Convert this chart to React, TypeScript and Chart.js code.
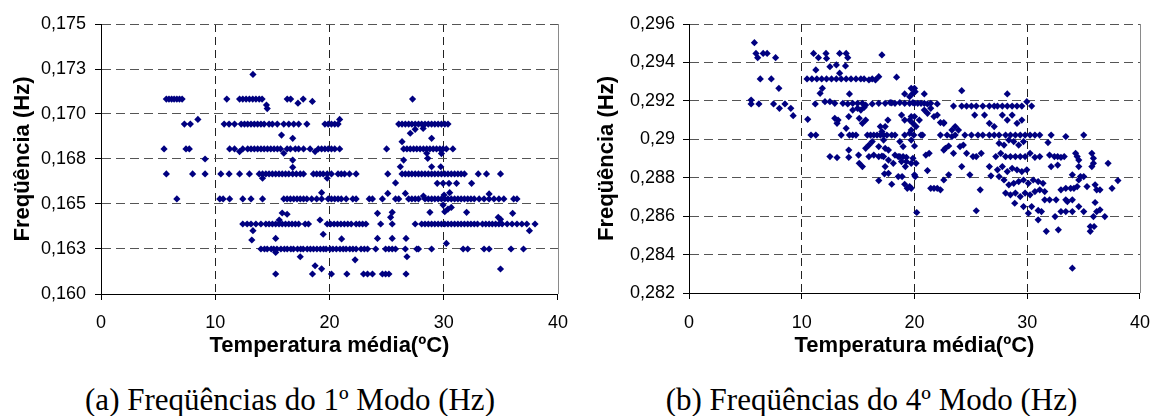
import React, { useEffect, useRef } from 'react';
import { Chart, registerables } from 'chart.js';

Chart.register(...registerables);

// ---------- (a) 1st mode: frequency levels (Hz) and temperatures (ºC) on each level ----------
const mode1Levels = [0.17083, 0.16944, 0.16806, 0.16667, 0.16528, 0.16389, 0.1625, 0.16111];

const mode1Row0 = [5.72, 5.95, 6.18, 6.4, 6.64, 6.87, 7.1, 11.01, 12.13, 12.41, 12.7, 12.99, 13.28, 13.56, 13.85, 14.1, 16.3, 16.6, 17.7, 27.27];
const mode1Row1 = [7.3, 7.82, 10.78, 11.21, 11.69, 12.27, 12.56, 12.84, 13.13, 13.42, 13.71, 14.0, 14.28, 14.71, 15.0, 15.43, 16.0, 16.44, 16.87, 17.3, 18.02, 19.6, 19.89, 20.17, 20.46, 20.75, 26.06, 26.35, 26.64, 26.93, 27.21, 27.5, 27.79, 28.07, 28.36, 28.65, 28.94, 29.22, 29.51, 29.8, 30.09, 30.37];
const mode1Row2 = [5.52, 7.44, 7.73, 11.26, 11.69, 12.41, 12.84, 13.13, 13.42, 13.71, 14.0, 14.28, 14.57, 14.86, 15.15, 15.44, 15.72, 16.29, 16.58, 17.01, 17.3, 17.73, 18.3, 19.02, 19.31, 19.6, 19.89, 20.17, 20.46, 20.89, 25.0, 26.49, 26.78, 27.07, 27.36, 27.64, 27.93, 28.22, 28.51, 28.79, 29.08, 29.37, 29.66, 29.94, 30.23, 30.8];
const mode1Row3 = [5.72, 8.02, 9.11, 10.49, 11.21, 12.13, 12.99, 13.85, 14.14, 14.43, 14.71, 15.0, 15.29, 15.58, 15.86, 16.15, 16.44, 16.78, 17.1, 17.44, 17.73, 18.59, 18.88, 19.17, 19.45, 19.8, 20.17, 20.75, 21.03, 21.32, 21.75, 22.33, 25.1, 26.35, 26.64, 26.93, 27.21, 27.5, 27.79, 28.07, 28.36, 28.65, 28.94, 29.22, 29.51, 29.8, 30.09, 30.37, 30.66, 30.95, 31.24, 31.52, 31.81, 33.02, 33.74, 34.97];
const mode1Row4 = [6.64, 10.4, 10.69, 11.26, 12.41, 13.13, 14.14, 16.0, 16.29, 16.58, 16.87, 17.16, 17.44, 17.73, 18.02, 18.44, 18.88, 19.31, 19.89, 20.17, 20.46, 20.75, 21.03, 21.46, 22.04, 22.33, 23.48, 23.76, 24.63, 25.78, 26.06, 26.93, 27.21, 27.5, 27.79, 28.36, 28.65, 28.94, 29.22, 29.51, 29.8, 30.09, 30.37, 30.66, 30.95, 31.24, 31.52, 31.81, 32.1, 32.38, 32.67, 33.1, 33.53, 33.97, 34.4, 34.83, 35.26, 36.12, 36.41];
const mode1Row5 = [12.41, 12.79, 13.13, 13.56, 14.0, 14.43, 14.71, 15.0, 15.29, 15.58, 15.86, 16.15, 16.44, 16.72, 17.01, 17.3, 17.87, 18.16, 19.8, 20.1, 20.4, 20.7, 21.0, 21.3, 21.6, 21.9, 22.33, 22.61, 22.9, 23.19, 24.48, 25.49, 27.5, 28.07, 28.36, 28.65, 28.94, 29.22, 29.51, 29.8, 30.09, 30.37, 30.66, 30.95, 31.24, 31.52, 31.81, 32.1, 32.38, 32.67, 32.96, 33.39, 33.68, 33.97, 34.25, 34.54, 34.83, 35.11, 35.55, 35.98, 36.41, 36.84, 37.27, 37.99];
const mode1Row6 = [14.0, 14.31, 14.55, 14.9, 15.12, 15.4, 15.75, 16.05, 16.3, 16.62, 16.85, 17.2, 17.48, 17.7, 18.05, 18.33, 18.6, 18.9, 19.2, 19.48, 19.7, 20.05, 20.3, 20.6, 20.92, 21.2, 21.45, 21.78, 22.05, 22.33, 22.76, 23.05, 23.33, 24.05, 24.91, 25.2, 25.49, 25.78, 26.64, 27.64, 27.79, 28.94, 31.7, 32.1, 33.53, 33.97, 35.89, 36.98];
const mode1Row7 = [15.29, 18.51, 20.17, 21.52, 22.98, 23.33, 23.76, 24.63, 24.91, 25.2, 26.7];
const mode1Rows = [mode1Row0, mode1Row1, mode1Row2, mode1Row3, mode1Row4, mode1Row5, mode1Row6, mode1Row7];

// points lying between the levels: [temperature, frequency]
const mode1Between: [number, number][] = [
  [14.48, 0.1705], [14.55, 0.1703], [17.24, 0.1706], [18.5, 0.1707], [13.3, 0.1722],
  [8.48, 0.1697], [20.89, 0.1697], [27.5, 0.16915], [27.07, 0.16893], [28.2, 0.1692], [28.94, 0.16865], [28.51, 0.16782], [15.8, 0.16883], [16.78, 0.16865],
  [12.13, 0.16791], [16.0, 0.16782], [18.74, 0.16791], [26.35, 0.16846], [29.8, 0.1678], [26.49, 0.16744],
  [9.11, 0.1675], [14.14, 0.16643], [19.8, 0.16643], [16.78, 0.16744], [16.78, 0.16704], [26.2, 0.16707], [28.6, 0.16754], [28.94, 0.16707], [29.74, 0.16707],
  [29.43, 0.16615], [29.94, 0.16615], [30.46, 0.16615], [31.12, 0.16615], [32.44, 0.16615], [25.78, 0.16617], [33.97, 0.16556], [25.1, 0.16559], [26.64, 0.16559], [28.22, 0.16544], [30.03, 0.1655], [30.52, 0.16563],
  [19.31, 0.16563], [29.94, 0.16494], [30.09, 0.16457], [30.37, 0.16472], [30.66, 0.16481], [24.2, 0.16448], [25.49, 0.16454], [25.35, 0.16426], [28.79, 0.16454], [32.0, 0.16454], [34.77, 0.16426], [34.97, 0.16415], [36.03, 0.16448], [15.86, 0.1645], [16.29, 0.16443], [15.6, 0.16411],
  [19.17, 0.16411], [37.5, 0.16352], [13.3, 0.16352], [13.2, 0.163],
  [15.29, 0.16309], [19.45, 0.16332], [21.06, 0.16306], [24.2, 0.16309], [25.49, 0.16309], [26.7, 0.16309], [30.23, 0.16281],
  [15.29, 0.16231], [17.44, 0.16207], [18.74, 0.16157], [19.31, 0.1614], [22.24, 0.1619], [26.78, 0.16207], [34.97, 0.16139],
];

// ---------- (b) 4th mode: [temperature, frequency] ----------
const mode4Cool: [number, number][] = [
  [5.8, 0.29503], [5.94, 0.29447], [6.09, 0.29425], [6.58, 0.29447], [6.93, 0.29447], [7.68, 0.29425], [6.32, 0.29314], [7.3, 0.29314], [7.97, 0.29265], [5.51, 0.29204], [5.51, 0.29184], [6.2, 0.29184], [7.5, 0.29184], [8.02, 0.29161], [8.51, 0.29184], [9.03, 0.29161], [9.24, 0.29123],
  [10.53, 0.29104], [10.82, 0.29022], [11.25, 0.29022], [11.05, 0.29447], [11.48, 0.29425], [11.25, 0.29361], [10.47, 0.29314], [10.9, 0.29314], [11.34, 0.29314], [11.77, 0.29314], [11.2, 0.29184], [11.63, 0.29239], [11.83, 0.29265], [12.15, 0.29447], [12.2, 0.29421], [12.06, 0.29196], [12.5, 0.29196], [12.93, 0.29187],
  [12.2, 0.29314], [12.64, 0.29314], [13.07, 0.29314], [13.5, 0.29314], [13.94, 0.29314], [14.37, 0.29314], [14.81, 0.29314], [15.24, 0.29314], [15.53, 0.29314],
  [12.5, 0.29378], [13.07, 0.29387], [13.36, 0.29344], [13.88, 0.29382], [13.36, 0.29447], [13.94, 0.29447], [14.08, 0.29425], [14.23, 0.29236],
  [12.93, 0.29109], [13.13, 0.29083], [13.22, 0.291], [12.5, 0.2891], [13.13, 0.28905],
  [13.5, 0.29022], [13.94, 0.29057], [14.23, 0.29022], [14.52, 0.29022], [14.81, 0.29022],
  [13.65, 0.29187], [14.08, 0.29184], [14.52, 0.29187], [14.95, 0.29187], [15.38, 0.29187], [15.67, 0.29178],
  [14.17, 0.29118], [14.17, 0.28944], [14.17, 0.28906], [15.04, 0.28918], [15.1, 0.28875], [15.38, 0.28858],
  [14.52, 0.29152], [14.95, 0.29161], [15.24, 0.29152], [15.53, 0.29166], [15.1, 0.29109], [15.38, 0.29083], [15.67, 0.291],
  [15.82, 0.29022], [16.1, 0.29022], [16.39, 0.29022], [16.68, 0.29022], [16.97, 0.29022], [17.26, 0.29022], [17.55, 0.29022],
  [15.96, 0.29309], [16.25, 0.29314], [16.54, 0.29309], [16.83, 0.29326], [17.11, 0.29439],
  [15.67, 0.28953], [15.96, 0.2897], [16.25, 0.28988], [15.96, 0.2891], [16.39, 0.28918], [16.83, 0.2891], [17.11, 0.28913],
  [16.97, 0.29066], [17.11, 0.2904], [17.4, 0.29066], [17.64, 0.291], [16.83, 0.28962], [17.26, 0.28996], [17.4, 0.28953], [17.69, 0.28944],
  [17.26, 0.2891], [17.4, 0.28858], [17.69, 0.28892], [17.34, 0.2882], [17.69, 0.28823], [16.83, 0.28785], [16.25, 0.29184], [16.83, 0.29187], [17.4, 0.29187], [17.84, 0.29191],
];

const mode4Mid: [number, number][] = [
  [17.98, 0.28766], [19.13, 0.28766], [19.36, 0.28745], [18.12, 0.28875], [18.27, 0.28918],
  [17.98, 0.29022], [18.27, 0.29022], [18.41, 0.29323], [17.98, 0.2919], [18.27, 0.29187], [18.7, 0.29191], [19.13, 0.29187], [19.57, 0.29187], [19.86, 0.29191],
  [19.13, 0.29236], [19.57, 0.29222], [19.86, 0.29239],
  [18.85, 0.29126], [19.13, 0.291], [19.71, 0.29118], [19.86, 0.29083],
  [19.13, 0.29022], [19.57, 0.29031], [19.94, 0.29022],
  [18.7, 0.28988], [18.99, 0.28962], [19.71, 0.28996],
  [18.56, 0.2891], [18.99, 0.2891], [19.28, 0.28906], [19.86, 0.28901],
  [18.85, 0.28884], [19.71, 0.28875], [19.19, 0.28858], [18.56, 0.28806], [18.9, 0.28806],
  [20.0, 0.29187], [20.29, 0.29187], [20.58, 0.29187], [20.87, 0.29187], [21.15, 0.29184], [21.44, 0.29187], [22.02, 0.29184],
  [19.71, 0.29265], [20.0, 0.29265], [20.06, 0.29248], [20.87, 0.29236],
  [19.57, 0.291], [20.0, 0.29118], [20.43, 0.291], [20.14, 0.29066], [19.71, 0.29048],
  [20.87, 0.29152], [21.15, 0.29135], [21.44, 0.29161], [21.73, 0.29118], [22.02, 0.29126], [22.6, 0.29083],
  [20.58, 0.29022], [20.72, 0.29022],
  [20.0, 0.28965], [20.14, 0.28875], [21.01, 0.28918], [21.3, 0.28927], [18.7, 0.2891], [19.28, 0.28884],
  [19.57, 0.28754], [19.71, 0.28745], [20.0, 0.28815], [20.06, 0.28806], [20.2, 0.28619], [21.15, 0.28837],
  [21.44, 0.28745], [21.73, 0.28745], [22.02, 0.28745], [22.3, 0.28737],
  [22.3, 0.29087], [22.6, 0.29087], [22.3, 0.29022], [22.89, 0.29022], [23.32, 0.29014], [23.61, 0.29022],
  [22.6, 0.28944], [22.74, 0.28953], [23.03, 0.28965], [23.03, 0.28815], [22.6, 0.28788],
  [23.46, 0.29173], [24.19, 0.29253], [24.19, 0.29173], [24.62, 0.29173], [25.05, 0.29173],
  [23.32, 0.29048], [23.61, 0.29066], [23.9, 0.29048],
  [23.46, 0.28927], [24.04, 0.28962], [24.33, 0.2897], [24.62, 0.28927], [25.19, 0.2891],
  [24.19, 0.28858], [24.91, 0.28815], [25.34, 0.29126], [25.48, 0.29173],
  [24.47, 0.29022], [25.05, 0.29022], [25.63, 0.29022], [26.06, 0.29022],
  [25.48, 0.2891], [25.92, 0.28927], [25.83, 0.28737], [25.48, 0.28628], [26.64, 0.28858], [26.78, 0.2881],
];

const mode4Warm: [number, number][] = [
  [26.06, 0.29173], [26.64, 0.29173], [27.07, 0.29173], [27.36, 0.29173], [27.79, 0.29173], [28.23, 0.29173], [28.66, 0.29173], [29.09, 0.29173], [29.52, 0.29173], [29.96, 0.29196], [30.39, 0.29173], [28.23, 0.29236],
  [26.21, 0.29126], [26.64, 0.29083], [27.07, 0.29066], [27.79, 0.29126], [28.23, 0.291], [28.66, 0.29126], [29.09, 0.29083], [29.52, 0.291],
  [26.64, 0.29022], [27.07, 0.29022], [27.5, 0.29022], [28.08, 0.29022], [28.51, 0.29022], [28.95, 0.29022], [29.38, 0.29022], [29.81, 0.29022], [30.25, 0.29022], [30.68, 0.29022], [31.11, 0.29022],
  [27.5, 0.28979], [27.94, 0.2897], [28.37, 0.28996], [28.8, 0.28988], [29.24, 0.2897], [29.67, 0.28988],
  [27.21, 0.2891], [27.65, 0.28927], [28.08, 0.2891], [28.51, 0.2891], [28.95, 0.2891], [29.38, 0.2891], [29.81, 0.2891], [30.25, 0.28927], [30.68, 0.28906], [31.11, 0.2891],
  [27.36, 0.28841], [27.79, 0.28858], [28.23, 0.28832], [28.66, 0.28849], [29.09, 0.28841], [29.52, 0.28832], [29.96, 0.28841],
  [27.5, 0.28806], [27.94, 0.28788], [28.37, 0.28763], [28.8, 0.28771], [29.24, 0.2878], [29.67, 0.28788], [30.1, 0.28771], [30.53, 0.28788], [30.97, 0.2878], [31.4, 0.28771],
  [28.08, 0.2872], [28.51, 0.28711], [28.95, 0.2872], [29.38, 0.28702], [29.81, 0.2872], [30.25, 0.28711], [30.68, 0.28728], [31.11, 0.28737], [31.55, 0.28728],
  [28.89, 0.28667], [29.67, 0.2865], [30.1, 0.28615], [30.39, 0.2865], [30.97, 0.2863], [31.26, 0.28624], [31.55, 0.28685],
  [30.97, 0.28581], [31.69, 0.28521], [32.47, 0.28598], [32.76, 0.28529], [31.98, 0.28685], [32.56, 0.28685],
  [31.98, 0.28918], [32.41, 0.2891], [32.7, 0.2891], [32.99, 0.28906], [33.28, 0.2891],
  [32.12, 0.29022], [33.42, 0.29014], [35.01, 0.29022], [31.84, 0.28983],
  [32.12, 0.28858], [32.7, 0.28866], [32.99, 0.28737], [33.42, 0.28745], [33.85, 0.28745], [34.0, 0.28815],
  [33.42, 0.28685], [33.56, 0.28676], [34.0, 0.28685], [34.14, 0.28745], [34.43, 0.28754], [34.57, 0.28788], [34.72, 0.28806], [35.01, 0.28806],
  [32.99, 0.28624], [33.42, 0.28624], [34.0, 0.28624], [34.57, 0.2865], [35.01, 0.28624],
  [34.29, 0.28927], [34.43, 0.2891], [34.57, 0.28892], [34.57, 0.28858],
  [35.73, 0.28927], [35.87, 0.28901], [35.87, 0.28875], [35.73, 0.28858],
  [35.3, 0.28754], [36.02, 0.28763], [36.16, 0.28737], [36.45, 0.28737],
  [35.59, 0.28546], [35.93, 0.28546], [35.59, 0.28521],
  [36.02, 0.28671], [36.16, 0.28624], [36.45, 0.28633], [36.88, 0.28598], [35.87, 0.28598],
  [37.17, 0.28875], [37.52, 0.28745], [38.04, 0.28785], [34.0, 0.28329],
];

// ---------- axes ----------
const tempTicks = [0, 10, 20, 30, 40];
const mode1YTicks = [0.16, 0.1625, 0.165, 0.1675, 0.17, 0.1725, 0.175];
const mode1YLabels = ['0,160', '0,163', '0,165', '0,168', '0,170', '0,173', '0,175'];
const mode4YTicks = [0.282, 0.284, 0.286, 0.288, 0.29, 0.292, 0.294, 0.296];
const mode4YLabels = ['0,282', '0,284', '0,286', '0,288', '0,29', '0,292', '0,294', '0,296'];

const xTitle = 'Temperatura média(ºC)';
const yTitle = 'Freqüência (Hz)';
const captionA = '(a) Freqüências do 1º Modo (Hz)';
const captionB = '(b) Freqüências do 4º Modo (Hz)';

const NAVY = '#000080';
const SANS = "'Liberation Sans', Arial, sans-serif";
const SERIF = "'Liberation Serif', 'Times New Roman', serif";

const mode1Points = () => {
  const pts: { x: number; y: number }[] = [];
  mode1Rows.forEach((row, i) => row.forEach((t) => pts.push({ x: t, y: mode1Levels[i] })));
  mode1Between.forEach(([t, f]) => pts.push({ x: t, y: f }));
  return pts;
};
const mode4Points = () =>
  [...mode4Cool, ...mode4Mid, ...mode4Warm].map(([t, f]) => ({ x: t, y: f }));

const rightFrame = {
  id: 'rightFrame',
  afterDraw(chart: any) {
    const { ctx, chartArea } = chart;
    const x = Math.round(chartArea.right) + 0.5;
    ctx.save();
    ctx.strokeStyle = '#8a8a8a';
    ctx.lineWidth = 1;
    ctx.beginPath();
    ctx.moveTo(x, chartArea.top);
    ctx.lineTo(x, chartArea.bottom);
    ctx.stroke();
    ctx.restore();
  },
};

type PanelProps = {
  points: { x: number; y: number }[];
  yTicks: number[];
  yLabels: string[];
  yAxisWidth: number;
  yTitlePad: number;
  yTickPad: number;
  xAxisHeight: number;
  xTickPad: number;
  rightPad: number;
  width: number;
  height: number;
  left: number;
};

function Panel(p: PanelProps) {
  const ref = useRef<HTMLCanvasElement>(null);
  useEffect(() => {
    if (!ref.current) return;
    const chart = new Chart(ref.current, {
      type: 'scatter',
      data: {
        datasets: [
          {
            data: p.points,
            pointStyle: 'rectRot',
            pointRadius: 3.6,
            backgroundColor: NAVY,
            borderColor: NAVY,
            borderWidth: 0,
          },
        ],
      },
      options: {
        responsive: false,
        animation: false,
        events: [],
        devicePixelRatio: 1,
        layout: { padding: { top: 24, left: 0, right: p.rightPad, bottom: 0 } },
        plugins: { legend: { display: false }, tooltip: { enabled: false } },
        scales: {
          x: {
            type: 'linear',
            min: 0,
            max: 40,
            afterBuildTicks: (axis: any) => {
              axis.ticks = tempTicks.map((v) => ({ value: v }));
            },
            afterFit: (axis: any) => {
              axis.height = p.xAxisHeight;
            },
            grid: {
              color: (c: any) => (c.tick && c.tick.value === 40 ? 'rgba(0,0,0,0)' : '#222'),
              lineWidth: 1,
              tickLength: 6,
              tickColor: '#000',
            },
            border: { display: true, color: '#000', width: 1, dash: [8, 5] },
            ticks: {
              color: '#000',
              font: { family: SANS, size: 18 },
              padding: p.xTickPad,
              maxRotation: 0,
              autoSkip: false,
            },
            title: {
              display: true,
              text: xTitle,
              color: '#000',
              font: { family: SANS, size: 22, weight: 'bold' },
              padding: { top: 0, bottom: 13 },
            },
          },
          y: {
            type: 'linear',
            min: p.yTicks[0],
            max: p.yTicks[p.yTicks.length - 1],
            afterBuildTicks: (axis: any) => {
              axis.ticks = p.yTicks.map((v) => ({ value: v }));
            },
            afterFit: (axis: any) => {
              axis.width = p.yAxisWidth;
            },
            grid: { color: '#555', lineWidth: 1, tickLength: 6, tickColor: '#000' },
            border: { display: true, color: '#000', width: 1, dash: [9, 5] },
            ticks: {
              color: '#000',
              font: { family: SANS, size: 18 },
              padding: p.yTickPad,
              autoSkip: false,
              callback: (_v: any, i: number) => p.yLabels[i],
            },
            title: {
              display: true,
              text: yTitle,
              color: '#000',
              font: { family: SANS, size: 22, weight: 'bold' },
              padding: { top: p.yTitlePad, bottom: 0 },
            },
          },
        },
      },
      plugins: [rightFrame],
    } as any);
    return () => chart.destroy();
  }, []);
  return (
    <canvas
      ref={ref}
      width={p.width}
      height={p.height}
      style={{ position: 'absolute', left: p.left, top: 0, width: p.width, height: p.height, display: 'block' }}
    />
  );
}

export default function App() {
  const captionStyle: React.CSSProperties = {
    position: 'absolute',
    top: 384,
    fontFamily: SERIF,
    fontSize: 31,
    lineHeight: '31px',
    textAlign: 'center',
    color: '#000',
    whiteSpace: 'nowrap',
  };
  return (
    <div style={{ position: 'absolute', left: 0, top: 0, width: 1163, height: 416, background: '#fff', overflow: 'hidden' }}>
      <Panel
        points={mode1Points()}
        yTicks={mode1YTicks}
        yLabels={mode1YLabels}
        yAxisWidth={101}
        yTitlePad={10}
        yTickPad={9}
        xAxisHeight={78}
        xTickPad={12}
        rightPad={15}
        width={580}
        height={372}
        left={0}
      />
      <Panel
        points={mode4Points()}
        yTicks={mode4YTicks}
        yLabels={mode4YLabels}
        yAxisWidth={109}
        yTitlePad={14}
        yTickPad={8}
        xAxisHeight={79}
        xTickPad={13}
        rightPad={12}
        width={583}
        height={372}
        left={580}
      />
      <div style={{ ...captionStyle, left: 0, width: 580 }}>{captionA}</div>
      <div style={{ ...captionStyle, left: 580, width: 583 }}>{captionB}</div>
    </div>
  );
}
